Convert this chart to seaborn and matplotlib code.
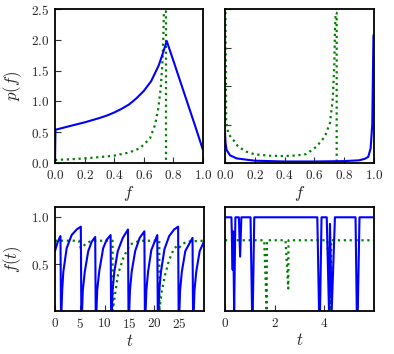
import matplotlib
matplotlib.use("Agg")
import matplotlib.pyplot as plt
import seaborn as sns
from matplotlib.ticker import FuncFormatter

# top-left panel: p(f)
f_tl_blue = [0.0, 0.003, 0.1, 0.2, 0.3, 0.35, 0.4, 0.45, 0.5, 0.55, 0.6, 0.65, 0.7, 0.73,
             0.755, 0.8, 0.85, 0.9, 0.95, 1.0]
p_tl_blue = [0.0, 0.54, 0.60, 0.66, 0.73, 0.77, 0.82, 0.88, 0.95, 1.05, 1.17, 1.33, 1.58, 1.79,
             1.98, 1.66, 1.30, 0.94, 0.58, 0.21]
f_tl_green = [0.0, 0.1, 0.2, 0.3, 0.4, 0.5, 0.574, 0.642, 0.676, 0.698, 0.714, 0.725, 0.732,
              0.736, 0.75, 0.75]
p_tl_green = [0.05, 0.06, 0.075, 0.095, 0.12, 0.17, 0.24, 0.40, 0.62, 0.89, 1.21, 1.59, 2.02,
              2.46, 2.46, 0.0]

# top-right panel
f_tr_blue = [0.0, 0.004, 0.011, 0.034, 0.078, 0.2, 0.4, 0.6, 0.8, 0.9, 0.94, 0.962, 0.978,
             0.989, 0.997]
p_tr_blue = [4.0, 2.6, 1.7, 1.0, 0.6, 0.3, 0.2, 0.2, 0.25, 0.35, 0.55, 0.8, 1.9, 5.0, 16.6]
f_tr_green = [0.003, 0.008, 0.022, 0.056, 0.09, 0.146, 0.2, 0.3, 0.39, 0.48, 0.546, 0.613,
              0.67, 0.705, 0.723, 0.734, 0.738, 0.743, 0.75, 0.75]
p_tr_green = [19.6, 5.6, 3.8, 3.0, 2.1, 1.46, 1.12, 0.95, 0.9, 0.98, 1.16, 2.1, 3.4, 5.2,
              8.2, 12.6, 16.8, 19.5, 19.5, 0.0]

# bottom-left panel: f(t)
t_bl_blue = [0.0, 0.5, 1.1, 1.2,
             1.3, 1.45, 1.68, 2.35, 3.35, 4.36, 5.2, 5.3,
             5.45, 5.6, 6.0, 6.7, 7.4, 8.1, 8.2,
             8.35, 8.5, 8.9, 9.7, 10.4, 11.2, 11.3,
             11.45, 11.6, 11.95, 12.65, 13.65, 14.7, 14.8,
             14.95, 15.1, 15.45, 16.15, 17.05, 18.0, 18.1,
             18.25, 18.4, 18.75, 19.4, 20.6, 20.7,
             20.85, 21.0, 21.35, 22.05, 23.0, 24.0, 24.8, 24.9,
             25.05, 25.2, 25.55, 26.25, 27.7, 27.8,
             27.95, 28.1, 28.45, 29.15, 30.0]
v_bl_blue = [0.64, 0.73, 0.80, 0.0,
             0.0, 0.22, 0.42, 0.67, 0.81, 0.87, 0.90, 0.0,
             0.0, 0.22, 0.42, 0.64, 0.74, 0.79, 0.0,
             0.0, 0.22, 0.42, 0.67, 0.76, 0.81, 0.0,
             0.0, 0.22, 0.42, 0.64, 0.78, 0.87, 0.0,
             0.0, 0.22, 0.42, 0.64, 0.78, 0.85, 0.0,
             0.0, 0.22, 0.42, 0.65, 0.81, 0.0,
             0.0, 0.22, 0.42, 0.66, 0.80, 0.87, 0.90, 0.0,
             0.0, 0.22, 0.42, 0.64, 0.78, 0.0,
             0.0, 0.22, 0.42, 0.64, 0.74]
t_bl_green = [0.0, 4.8, 5.2, 5.6, 6.3, 7.0, 8.0, 11.6, 11.62, 12.07, 12.7, 13.7, 15.1, 17.1,
              21.0, 21.02, 21.5, 22.2, 22.9, 23.9, 24.7, 25.1, 25.6, 26.5, 30.0]
v_bl_green = [0.75, 0.75, 0.67, 0.69, 0.72, 0.74, 0.75, 0.75, 0.0, 0.17, 0.39, 0.56, 0.71, 0.75,
              0.75, 0.0, 0.21, 0.39, 0.53, 0.66, 0.70, 0.68, 0.71, 0.74, 0.75]

# bottom-right panel
t_br_blue = [0.0, 0.26, 0.31, 0.33, 0.37, 0.42, 0.56, 0.61, 0.66, 1.03, 1.09, 1.12, 1.18,
             3.72, 3.79, 3.83, 3.89, 4.10, 4.19, 4.23, 4.30, 4.43, 5.26, 5.31, 5.35, 5.42, 6.0]
v_br_blue = [1.0, 1.0, 0.44, 0.85, 0.0, 1.0, 1.0, 0.58, 1.0, 1.0, 0.0, 0.0, 1.0,
             1.0, 0.0, 0.0, 1.0, 1.0, 0.0, 0.93, 0.0, 1.0, 1.0, 0.0, 0.0, 1.0, 1.0]
t_br_green = [0.0, 1.58, 1.68, 1.69, 2.44, 2.55, 2.56, 4.12, 4.27, 4.28, 6.0]
v_br_green = [0.755, 0.755, 0.0, 0.755, 0.755, 0.24, 0.755, 0.755, 0.0, 0.755, 0.755]


def main():
    sns.set_style("ticks")
    plt.rcParams["mathtext.fontset"] = "cm"
    plt.rcParams["font.family"] = ["DejaVu Serif"]

    fig = plt.figure(figsize=(3.94, 3.54), dpi=100)
    ax_tl = fig.add_axes([0.1396, 0.5395, 0.3756, 0.435])
    ax_tr = fig.add_axes([0.571, 0.5395, 0.378, 0.435])
    ax_bl = fig.add_axes([0.1396, 0.1215, 0.378, 0.2938])
    ax_br = fig.add_axes([0.571, 0.1215, 0.378, 0.2938])

    blue = dict(color="b", lw=1.5, sort=False, estimator=None)
    green = dict(color="g", lw=1.6, linestyle=":", sort=False, estimator=None)

    sns.lineplot(x=f_tl_green, y=p_tl_green, ax=ax_tl, **green)
    sns.lineplot(x=f_tl_blue, y=p_tl_blue, ax=ax_tl, **blue)
    sns.lineplot(x=f_tr_green, y=p_tr_green, ax=ax_tr, **green)
    sns.lineplot(x=f_tr_blue, y=p_tr_blue, ax=ax_tr, **blue)
    sns.lineplot(x=t_bl_green, y=v_bl_green, ax=ax_bl, **green)
    sns.lineplot(x=t_bl_blue, y=v_bl_blue, ax=ax_bl, **blue)
    sns.lineplot(x=t_br_green, y=v_br_green, ax=ax_br, **green)
    sns.lineplot(x=t_br_blue, y=v_br_blue, ax=ax_br, **blue)

    fmt1 = FuncFormatter(lambda v, pos: f"${v:.1f}$")
    fmt0 = FuncFormatter(lambda v, pos: f"${v:.0f}$")

    ax_tl.set_xlim(0, 1)
    ax_tl.set_ylim(0, 2.5)
    ax_tl.set_xticks([0, 0.2, 0.4, 0.6, 0.8, 1.0])
    ax_tl.set_yticks([0, 0.5, 1.0, 1.5, 2.0, 2.5])
    ax_tl.xaxis.set_major_formatter(fmt1)
    ax_tl.yaxis.set_major_formatter(fmt1)
    ax_tl.set_xlabel("$f$")
    ax_tl.set_ylabel("$p(f)$")

    ax_tr.set_xlim(0, 1)
    ax_tr.set_ylim(0, 20)
    ax_tr.set_xticks([0, 0.2, 0.4, 0.6, 0.8, 1.0])
    ax_tr.set_yticks([0, 5, 10, 15, 20])
    ax_tr.xaxis.set_major_formatter(fmt1)
    ax_tr.set_yticklabels([])
    ax_tr.set_xlabel("$f$")

    ax_bl.set_xlim(0, 30)
    ax_bl.set_ylim(0, 1.11)
    ax_bl.set_xticks([0, 5, 10, 15, 20, 25])
    ax_bl.set_yticks([0.5, 1.0])
    ax_bl.xaxis.set_major_formatter(fmt0)
    ax_bl.yaxis.set_major_formatter(fmt1)
    ax_bl.set_xlabel("$t$")
    ax_bl.set_ylabel("$f(t)$")

    ax_br.set_xlim(0, 6)
    ax_br.set_ylim(0, 1.11)
    ax_br.set_xticks([0, 2, 4])
    ax_br.set_yticks([])
    ax_br.xaxis.set_major_formatter(fmt0)
    ax_br.set_xlabel("$t$")

    for ax in (ax_tl, ax_tr, ax_bl, ax_br):
        for sp in ax.spines.values():
            sp.set_visible(True)
            sp.set_linewidth(1.3)
            sp.set_color("black")
        ax.tick_params(direction="in", length=4, width=0.8, color="#333333",
                       labelsize=9.5, pad=4, top=False, right=False)
        ax.xaxis.label.set_size(12)
        ax.yaxis.label.set_size(12)
        ax.xaxis.labelpad = 2
        ax.yaxis.labelpad = 5

    fig.savefig("out.png", dpi=100)


if __name__ == "__main__":
    main()
